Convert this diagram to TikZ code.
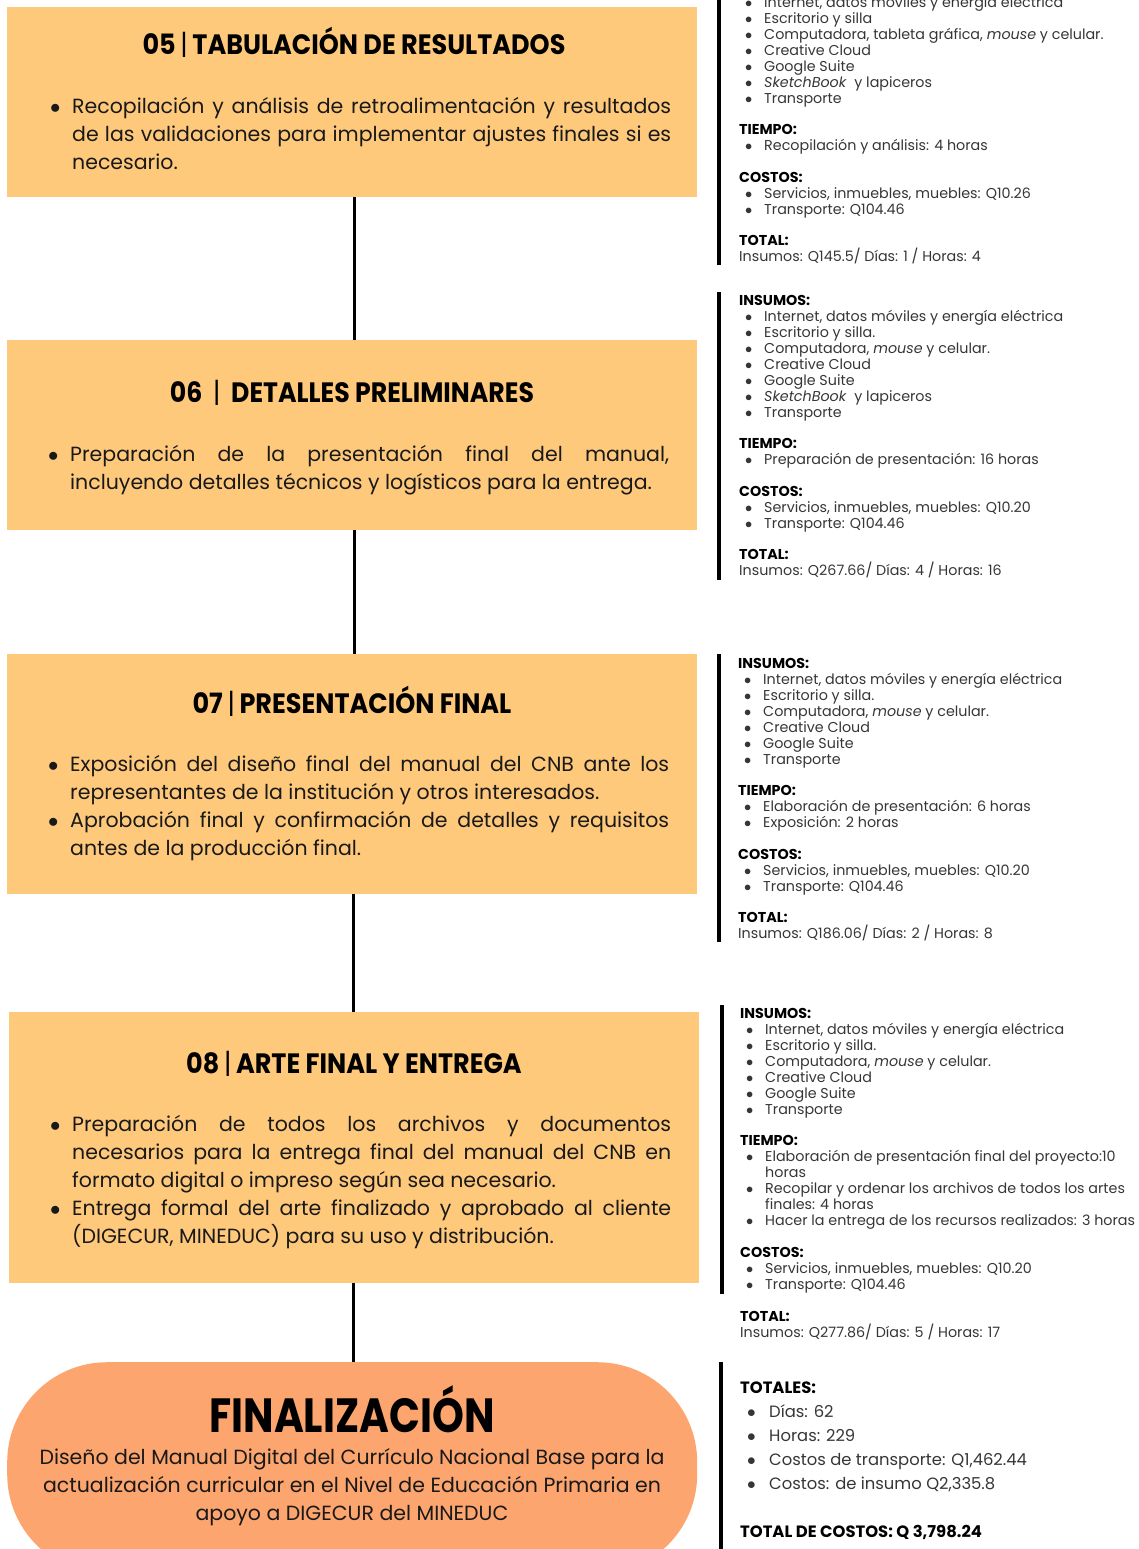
\documentclass[tikz,border=0pt]{standalone}
\usepackage{fontspec}
\setmainfont{Poppins}
\newfontfamily\headfont[FakeStretch=0.91]{Poppins}
\newfontfamily\headwide[FakeStretch=0.9]{Poppins}
\newfontfamily\endfont[FakeStretch=0.845]{Poppins}
\usepackage{tikz}
\usetikzlibrary{positioning}

\definecolor{boxorange}{HTML}{FFC97C}
\definecolor{endorange}{HTML}{FCA56E}
\definecolor{listgray}{HTML}{363636}

\hyphenpenalty=10000
\exhyphenpenalty=10000

% bullet for the stage boxes
\newcommand{\bpoint}[1]{\noindent\hangindent=22pt\hangafter=1\makebox[22pt][l]{$\bullet$}#1\par}
% side lists
\newcommand{\itm}[1]{\makebox[25pt][l]{\hspace{6pt}$\bullet$}#1}
\newcommand{\cnt}[1]{\hspace*{25pt}#1}
\newcommand{\tot}[1]{\makebox[29pt][l]{\hspace{7pt}$\bullet$}#1}
\newcommand{\hd}[1]{{\color{black}\bfseries #1}}
\newcommand{\sep}{{\mdseries|}}

\begin{document}
\begin{tikzpicture}[x=1pt,y=-1pt,
    stage/.style={fill=boxorange, draw=none, minimum width=690pt, inner sep=0pt, anchor=north west},
    stagehead/.style={font=\headfont\bfseries\fontsize{28}{32}\selectfont, inner sep=0pt, anchor=base},
    stagebody/.style={text width=621pt, align=justify, font=\fontsize{20.5}{28}\selectfont, inner sep=0pt, anchor=north west, text=black!90},
    link/.style={line width=3pt},
    sidebar/.style={line width=3.5pt},
    sideinfo/.style={align=left, anchor=north west, inner sep=0pt, font=\fontsize{14.3}{16}\selectfont, text=listgray}
    ]
    \useasboundingbox (0,0) rectangle (1138,1549);

    % stage boxes
    \node[stage, minimum height=190pt] (s05) at (7,7) {};
    \node[stage, minimum height=190pt] (s06) at (7,340) {};
    \node[stage, minimum height=240pt] (s07) at (7,654) {};
    \node[stage, minimum height=271pt] (s08) at (9,1012) {};
    \node[fill=endorange, draw=none, rounded corners=100pt, minimum width=690pt,
          minimum height=212pt, anchor=north west] (fin) at (7,1362) {};

    % links
    \draw[link] ([xshift=2pt]s05.south) -- ([xshift=2pt]s06.north);
    \draw[link] ([xshift=2pt]s06.south) -- ([xshift=2pt]s07.north);
    \draw[link] ([xshift=1pt]s07.south) -- ([xshift=-1pt]s08.north);
    \draw[link] ([xshift=-1pt]s08.south) -- ([xshift=1pt]fin.north);

    % 05
    \node[stagehead] (h05) at (354,55) {05\,\sep\,TABULACIÓN DE RESULTADOS};
    \node[stagebody] (t05) at (50,97) {\bpoint{Recopilación y análisis de retroalimentación y resultados\linebreak de las validaciones para implementar ajustes finales si es\linebreak necesario.}};

    % 06
    \node[stagehead, font=\headwide\bfseries\fontsize{28}{32}\selectfont] (h06) at (352,402) {06 \ \sep\ \ DETALLES PRELIMINARES};
    \node[stagebody] (t06) at (48,445) {\bpoint{Preparación de la presentación final del manual,\linebreak incluyendo detalles técnicos y logísticos para la entrega.}};

    % 07
    \node[stagehead] (h07) at (352,713) {07\,\sep\,PRESENTACIÓN FINAL};
    \node[stagebody] (t07) at (48,755) {\bpoint{Exposición del diseño final del manual del CNB ante los\linebreak representantes de la institución y otros interesados.}
      \bpoint{Aprobación final y confirmación de detalles y requisitos\linebreak antes de la producción final.}};

    % 08
    \node[stagehead] (h08) at (354,1073) {08\,\sep\,ARTE FINAL Y ENTREGA};
    \node[stagebody] (t08) at (50,1115) {\bpoint{Preparación de todos los archivos y documentos\linebreak necesarios para la entrega final del manual del CNB en\linebreak formato digital o impreso según sea necesario.}
      \bpoint{Entrega formal del arte finalizado y aprobado al cliente\linebreak (DIGECUR, MINEDUC) para su uso y distribución.}};

    % end
    \node[font=\endfont\bfseries\fontsize{48}{52}\selectfont, inner sep=0pt, anchor=base] (hfin) at (352,1432) {FINALIZACIÓN};
    \node[align=center, font=\fontsize{20.5}{28}\selectfont, inner sep=0pt, anchor=north, text=black!90] (tfin) at (352,1448)
      {Diseño del Manual Digital del Currículo Nacional Base para la\\
       actualización curricular en el Nivel de Educación Primaria en\\
       apoyo a DIGECUR del MINEDUC};

    % side bars
    \draw[sidebar] (719,0) -- (719,265);
    \draw[sidebar] (719,292) -- (719,580);
    \draw[sidebar] (719,654) -- (719,942);
    \draw[sidebar] (722,1005) -- (722,1294);
    \draw[sidebar] (721,1362) -- (721,1549);

    % side info
    \node[sideinfo] (i05) at (739,-4) {%
      \itm{Internet, datos móviles y energía eléctrica}\\
      \itm{Escritorio y silla}\\
      \itm{Computadora, tableta gráfica, \textit{mouse} y celular.}\\
      \itm{Creative Cloud}\\
      \itm{Google Suite}\\
      \itm{\textit{SketchBook}\ \ y lapiceros}\\
      \itm{Transporte}\\[15.5pt]
      \hd{TIEMPO:}\\
      \itm{Recopilación y análisis: 4 horas}\\[15.5pt]
      \hd{COSTOS:}\\
      \itm{Servicios, inmuebles, muebles: Q10.26}\\
      \itm{Transporte: Q104.46}\\[15.5pt]
      \hd{TOTAL:}\\
      Insumos: Q145.5/ Días: 1 / Horas: 4};

    \node[sideinfo] (i06) at (739,295) {%
      \hd{INSUMOS:}\\
      \itm{Internet, datos móviles y energía eléctrica}\\
      \itm{Escritorio y silla.}\\
      \itm{Computadora, \textit{mouse} y celular.}\\
      \itm{Creative Cloud}\\
      \itm{Google Suite}\\
      \itm{\textit{SketchBook}\ \ y lapiceros}\\
      \itm{Transporte}\\[15.5pt]
      \hd{TIEMPO:}\\
      \itm{Preparación de presentación: 16 horas}\\[15.5pt]
      \hd{COSTOS:}\\
      \itm{Servicios, inmuebles, muebles: Q10.20}\\
      \itm{Transporte: Q104.46}\\[15.5pt]
      \hd{TOTAL:}\\
      Insumos: Q267.66/ Días: 4 / Horas: 16};

    \node[sideinfo] (i07) at (738,658) {%
      \hd{INSUMOS:}\\
      \itm{Internet, datos móviles y energía eléctrica}\\
      \itm{Escritorio y silla.}\\
      \itm{Computadora, \textit{mouse} y celular.}\\
      \itm{Creative Cloud}\\
      \itm{Google Suite}\\
      \itm{Transporte}\\[15.5pt]
      \hd{TIEMPO:}\\
      \itm{Elaboración de presentación: 6 horas}\\
      \itm{Exposición: 2 horas}\\[15.5pt]
      \hd{COSTOS:}\\
      \itm{Servicios, inmuebles, muebles: Q10.20}\\
      \itm{Transporte: Q104.46}\\[15.5pt]
      \hd{TOTAL:}\\
      Insumos: Q186.06/ Días: 2 / Horas: 8};

    \node[sideinfo] (i08) at (740,1008) {%
      \hd{INSUMOS:}\\
      \itm{Internet, datos móviles y energía eléctrica}\\
      \itm{Escritorio y silla.}\\
      \itm{Computadora, \textit{mouse} y celular.}\\
      \itm{Creative Cloud}\\
      \itm{Google Suite}\\
      \itm{Transporte}\\[15.5pt]
      \hd{TIEMPO:}\\
      \itm{Elaboración de presentación final del proyecto:10}\\
      \cnt{horas}\\
      \itm{Recopilar y ordenar los archivos de todos los artes}\\
      \cnt{finales: 4 horas}\\
      \itm{Hacer la entrega de los recursos realizados: 3 horas}\\[15.5pt]
      \hd{COSTOS:}\\
      \itm{Servicios, inmuebles, muebles: Q10.20}\\
      \itm{Transporte: Q104.46}\\[16pt]
      \hd{TOTAL:}\\
      Insumos: Q277.86/ Días: 5 / Horas: 17};

    \node[sideinfo, font=\fontsize{16.4}{24}\selectfont] (itot) at (740,1382) {%
      \hd{TOTALES:}\\
      \tot{Días: 62}\\
      \tot{Horas: 229}\\
      \tot{Costos de transporte: Q1,462.44}\\
      \tot{Costos: de insumo Q2,335.8}\\[24pt]
      \hd{TOTAL DE COSTOS: Q 3,798.24}};
\end{tikzpicture}
\end{document}
